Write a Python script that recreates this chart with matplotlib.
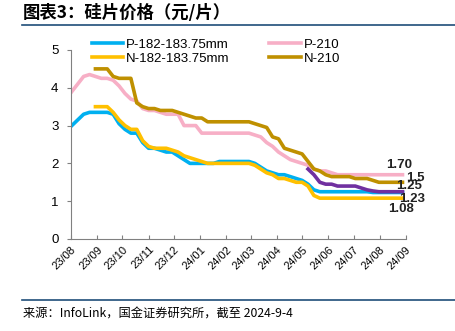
import matplotlib.pyplot as plt
import matplotlib.dates as mdates
import numpy as np
import pandas as pd

plt.rcParams['font.family'] = ['Liberation Sans', 'Noto Sans CJK SC', 'DejaVu Sans']

# weekly quotes, 2023-08-02 .. 2024-08-28
weeks = pd.date_range('2023-08-02', periods=57, freq='7D')
nan = np.nan

p182 = [3.0, 3.15, 3.3, 3.35, 3.35, 3.35, 3.35, 3.3, 3.05, 2.9,
        2.8, 2.8, 2.55, 2.4, 2.4, 2.35, 2.3, 2.3, 2.2, 2.1,
        2.0, 2.0, 2.0, 2.0, 2.0, 2.05, 2.05, 2.05, 2.05, 2.05,
        2.05, 2.0, 1.9, 1.8, 1.75, 1.7, 1.7, 1.65, 1.6, 1.55,
        1.45, 1.3, 1.25, 1.25, 1.25, 1.25, 1.25, 1.25, 1.25, 1.25,
        1.25, 1.23, 1.23, 1.23, 1.23, 1.23, 1.23]
p210 = [3.9, 4.1, 4.3, 4.35, 4.3, 4.25, 4.25, 4.2, 4.05, 3.85,
        3.7, 3.65, 3.45, 3.4, 3.4, 3.35, 3.3, 3.3, 3.3, 3.0,
        3.0, 3.0, 2.8, 2.8, 2.8, 2.8, 2.8, 2.8, 2.8, 2.8,
        2.8, 2.75, 2.7, 2.55, 2.45, 2.3, 2.2, 2.1, 2.05, 2.0,
        1.95, 1.85, 1.8, 1.8, 1.75, 1.7, 1.7, 1.7, 1.7, 1.7,
        1.7, 1.7, 1.7, 1.7, 1.7, 1.7, 1.7]
n182 = [nan, nan, nan, nan, 3.5, 3.5, 3.5, 3.35, 3.15, 3.0,
        2.9, 2.9, 2.6, 2.45, 2.4, 2.4, 2.4, 2.35, 2.3, 2.2,
        2.15, 2.1, 2.05, 2.0, 2.0, 2.0, 2.0, 2.0, 2.0, 2.0,
        2.0, 1.95, 1.85, 1.75, 1.7, 1.6, 1.6, 1.55, 1.5, 1.5,
        1.4, 1.15, 1.08, 1.08, 1.08, 1.08, 1.08, 1.08, 1.08, 1.08,
        1.08, 1.08, 1.08, 1.08, 1.08, 1.08, 1.08]
n210 = [nan, nan, nan, nan, 4.5, 4.5, 4.5, 4.3, 4.25, 4.25,
        4.25, 3.6, 3.5, 3.45, 3.45, 3.4, 3.4, 3.4, 3.35, 3.3,
        3.25, 3.2, 3.2, 3.1, 3.1, 3.1, 3.1, 3.1, 3.1, 3.1,
        3.1, 3.05, 3.0, 2.95, 2.7, 2.65, 2.4, 2.35, 2.3, 2.25,
        2.05, 1.85, 1.8, 1.7, 1.65, 1.65, 1.65, 1.65, 1.6, 1.6,
        1.6, 1.55, 1.5, 1.5, 1.5, 1.5, 1.5]
# unlabelled series (no legend entry), quoted from late May 2024
extra = [nan] * 40 + [1.85, 1.7, 1.5, 1.45, 1.45, 1.4, 1.4, 1.4, 1.4, 1.35,
                      1.3, 1.27, 1.25, 1.25, 1.25, 1.25, 1.25]

end_labels = ['1.70', '1.5', '1.25', '1.23', '1.08']
label_y = [1.95, 1.62, 1.4, 1.06, 0.79]

fig = plt.figure(figsize=(4.55, 3.31), dpi=100)
ax = fig.add_axes([0.156, 0.278, 0.736, 0.571])

lw = 2.6
ax.plot(weeks, p182, color='#00B0F0', lw=lw, label='P-182-183.75mm')
ax.plot(weeks, n182, color='#FFC000', lw=lw, label='N-182-183.75mm')
ax.plot(weeks, p210, color='#F7AFC6', lw=lw, label='P-210')
ax.plot(weeks, n210, color='#BF9000', lw=lw, label='N-210')
ax.plot(weeks, extra, color='#7030A0', lw=lw)

lx = [weeks[-1] - pd.Timedelta(days=4), weeks[-1] + pd.Timedelta(days=15),
      weeks[-1] + pd.Timedelta(days=8), weeks[-1] + pd.Timedelta(days=11),
      weeks[-1] - pd.Timedelta(days=2)]
for x, y, t in zip(lx, label_y, end_labels):
    ax.text(x, y, t, ha='center', va='center', fontsize=9.5,
            fontweight='bold', color='#222222')

ax.set_ylim(0, 5)
ax.set_yticks(range(6))
ax.set_xlim(pd.Timestamp('2023-08-01'), pd.Timestamp('2024-09-01'))
ax.xaxis.set_major_locator(mdates.MonthLocator())
ax.xaxis.set_major_formatter(mdates.DateFormatter('%y/%m'))
plt.setp(ax.get_xticklabels(), rotation=45, ha='right', rotation_mode='anchor')

for s in ['top', 'right']:
    ax.spines[s].set_visible(False)
for s in ['left', 'bottom']:
    ax.spines[s].set_color('#808080')
ax.tick_params(axis='y', labelsize=9.5, length=3, color='#808080', pad=6)
ax.tick_params(axis='x', labelsize=8, length=3, direction='in', color='#808080', pad=4)

ax.legend(loc='upper left', bbox_to_anchor=(0.062, 1.06), ncol=2, frameon=False,
          fontsize=9.5, handlelength=2.4, handletextpad=0.2, columnspacing=3.0,
          labelspacing=0.15, borderaxespad=0, borderpad=0)

fig.text(0.05, 0.962, '图表3：硅片价格（元/片）', fontsize=12.5, fontweight='bold',
         family=['Noto Sans CJK SC'], va='center', style='italic')
fig.add_artist(plt.Line2D([0.048, 1.0], [0.925, 0.925], color='#1F4E79', lw=1.2))
fig.add_artist(plt.Line2D([0.048, 1.0], [0.094, 0.094], color='#1F4E79', lw=1.2))
fig.text(0.05, 0.052, '来源：InfoLink，国金证券研究所，截至 2024-9-4', fontsize=8.8,
         family=['Noto Sans CJK SC'], va='center')

fig.savefig('out.png', dpi=100)
